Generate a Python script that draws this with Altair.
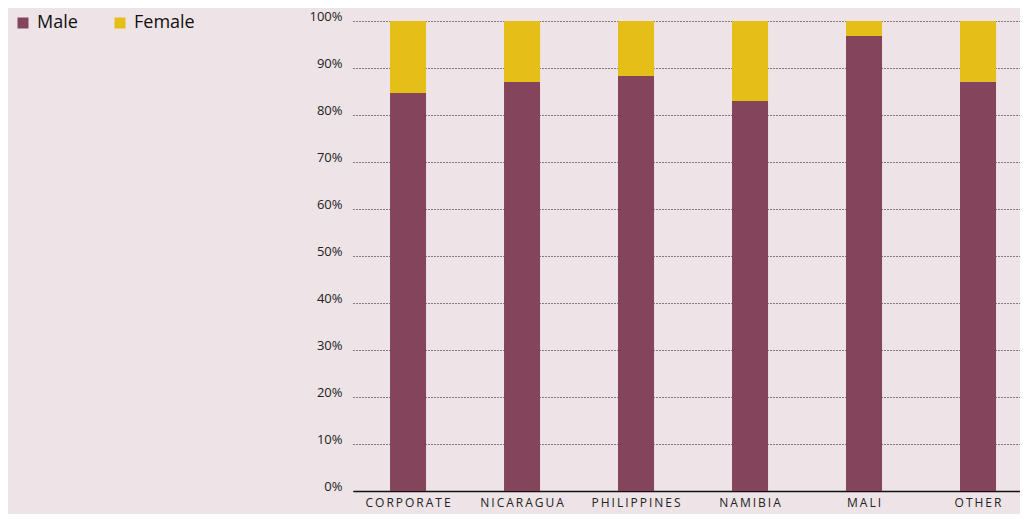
import altair as alt
import pandas as pd

categories = ["CORPORATE", "NICARAGUA", "PHILIPPINES", "NAMIBIA", "MALI", "OTHER"]
male = [84.7, 87.0, 88.3, 83.0, 96.8, 87.1]
female = [15.3, 13.0, 11.7, 17.0, 3.2, 12.9]
series = ["Male", "Female"]
colors = ["#84445C", "#E5BF17"]

rows = []
for c, m, f in zip(categories, male, female):
    rows.append({"cat": c, "gender": "Male", "value": m / 100, "ord": 0})
    rows.append({"cat": c, "gender": "Female", "value": f / 100, "ord": 1})
df = pd.DataFrame(rows)

FONT = "Open Sans"

chart = alt.Chart(df).mark_bar().encode(
    x=alt.X("cat:N", sort=categories,
            scale=alt.Scale(paddingInner=0.684, paddingOuter=0.2675, align=0.607),
            axis=alt.Axis(title=None, labelAngle=0, labelFontSize=12, labelFont=FONT,
                          labelColor="#222222", ticks=False, labelPadding=6,
                          labelExpr="join(split(datum.label, ''), '\u2009')",
                          domainColor="#111111", domainWidth=1.5, grid=False)),
    y=alt.Y("value:Q", stack="zero",
            scale=alt.Scale(domain=[0, 1], nice=False),
            axis=alt.Axis(title=None, format="%", values=[i / 10 for i in range(11)],
                          labelFontSize=13, labelFont=FONT, labelColor="#222222",
                          labelBaseline="alphabetic", labelOffset=-1,
                          ticks=False, domain=False, labelPadding=11,
                          grid=True, gridColor="#111111", gridDash=[1, 2], gridWidth=1)),
    color=alt.Color("gender:N",
                    scale=alt.Scale(domain=series, range=colors),
                    legend=alt.Legend(title=None, orient="none", legendX=-339, legendY=-7,
                                      direction="horizontal", symbolType="square",
                                      symbolSize=121, symbolStrokeWidth=0,
                                      labelFontSize=18, labelFont=FONT, labelColor="#111111",
                                      labelOffset=5, columnPadding=33)),
    order=alt.Order("ord:Q", sort="ascending"),
).properties(
    width=667, height=470,
    background="#EEE4E7",
    padding={"left": 345, "top": 13, "right": 0, "bottom": 23},
    autosize=alt.AutoSizeParams(type="none"),
).configure_view(stroke=None)

chart.save("out.html", embed_options={"renderer": "svg", "actions": False})
